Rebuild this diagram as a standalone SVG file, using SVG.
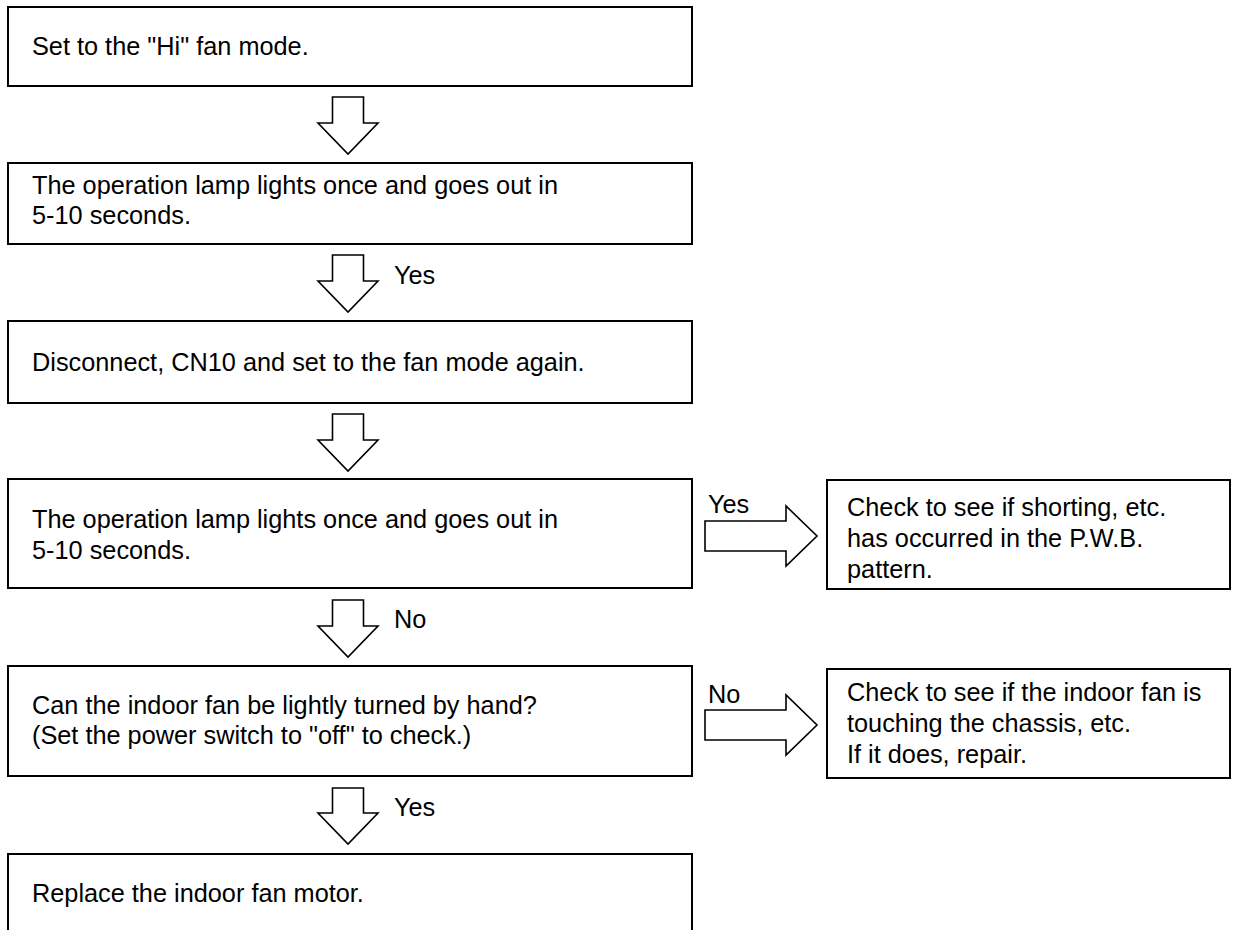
<svg xmlns="http://www.w3.org/2000/svg" width="1235" height="930" viewBox="0 0 1235 930">
<style>
.box{fill:#fff;stroke:#000;stroke-width:2}
.arr{fill:#fff;stroke:#000;stroke-width:1.6;stroke-linejoin:miter}
text{font-family:"Liberation Sans",Arial,Helvetica,sans-serif;font-size:25.3px;fill:#000}
</style>
<rect width="1235" height="930" fill="#fff"/>
<g id="connectors">
<polygon class="arr" points="332.5,97 363.5,97 363.5,123 378,123 348,154 318,123 332.5,123"/>
<polygon class="arr" points="332.5,255 363.5,255 363.5,281 378,281 348,312 318,281 332.5,281"/>
<text x="394" y="284">Yes</text>
<polygon class="arr" points="332.5,414 363.5,414 363.5,440 378,440 348,471 318,440 332.5,440"/>
<polygon class="arr" points="332.5,600 363.5,600 363.5,626 378,626 348,657 318,626 332.5,626"/>
<text x="394" y="628">No</text>
<polygon class="arr" points="332.5,788 363.5,788 363.5,813 378,813 348,844 318,813 332.5,813"/>
<text x="394" y="816">Yes</text>
<polygon class="arr" points="705,521 786,521 786,506 817,536 786,566 786,551 705,551"/>
<text x="708" y="513">Yes</text>
<polygon class="arr" points="705,710 786,710 786,695 817,725 786,755 786,740 705,740"/>
<text x="708" y="703">No</text>
</g>
<g id="n1"><rect class="box" x="8" y="7" width="684" height="79"/><text x="32" y="55">Set to the "Hi" fan mode.</text></g>
<g id="n2"><rect class="box" x="8" y="163" width="684" height="81"/><text x="32" y="194">The operation lamp lights once and goes out in</text><text x="32" y="224">5-10 seconds.</text></g>
<g id="n3"><rect class="box" x="8" y="321" width="684" height="82"/><text x="32" y="371">Disconnect, CN10 and set to the fan mode again.</text></g>
<g id="n4"><rect class="box" x="8" y="479" width="684" height="109"/><text x="32" y="528">The operation lamp lights once and goes out in</text><text x="32" y="559">5-10 seconds.</text></g>
<g id="n5"><rect class="box" x="8" y="666" width="684" height="110"/><text x="32" y="714">Can the indoor fan be lightly turned by hand?</text><text x="32" y="744">(Set the power switch to "off" to check.)</text></g>
<g id="n6"><rect class="box" x="8" y="854" width="684" height="90"/><text x="32" y="902">Replace the indoor fan motor.</text></g>
<g id="n7"><rect class="box" x="827" y="480" width="403" height="109"/><text x="847" y="516">Check to see if shorting, etc.</text><text x="847" y="547">has occurred in the P.W.B.</text><text x="847" y="578">pattern.</text></g>
<g id="n8"><rect class="box" x="827" y="669" width="403" height="109"/><text x="847" y="701">Check to see if the indoor fan is</text><text x="847" y="732">touching the chassis, etc.</text><text x="847" y="763">If it does, repair.</text></g>
</svg>
